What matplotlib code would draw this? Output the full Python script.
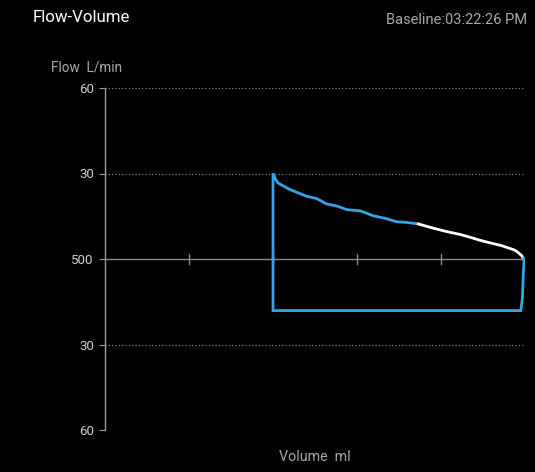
import matplotlib.pyplot as plt
import numpy as np

# loop trace (volume ml, flow L/min)
vol_blue = [200, 200, 203, 206, 213, 220, 230, 240, 252, 264, 276, 288, 304, 319, 333, 347, 360, 373]
flow_blue = [0, 30, 28.0, 26.7, 25.5, 24.4, 23.2, 22.0, 21.2, 19.3, 18.6, 17.3, 16.9, 15.2, 14.3, 13.1, 12.8, 12.3]
vol_white = [373, 391, 407, 423, 435, 446, 462, 472, 482, 488, 492, 496, 498]
flow_white = [12.3, 10.8, 9.6, 8.6, 7.6, 6.6, 5.4, 4.7, 3.7, 3.1, 2.2, 1.2, 0.1]
vol_back = [498, 499, 498, 497, 495, 200, 200]
flow_back = [0.1, -0.4, -4.6, -13.5, -18.1, -18.1, 0]

y_ticks = [60, 30, 0, -30, -60]
y_labels = ["60", "30", "500", "30", "60"]
x_ticks = [100, 200, 300, 400]

BLUE = "#35a3e6"

fig = plt.figure(figsize=(5.35, 4.72), dpi=100, facecolor="black")
ax = fig.add_axes([105 / 535, 1 - 430 / 472, 420 / 535, 342 / 472])
ax.set_facecolor("black")
ax.set_xlim(0, 500)
ax.set_ylim(-60, 60)

for s in ["top", "right", "bottom"]:
    ax.spines[s].set_visible(False)
ax.spines["left"].set_color("#9a9a9a")
ax.spines["left"].set_linewidth(1)

for yv in [60, 30, -30, -60]:
    ax.axhline(yv, color="#9a9a9a", linestyle=(0, (1, 2)), linewidth=0.8, xmax=0.995)
ax.axhline(0, color="#8a8a8a", linewidth=1)
for xv in x_ticks:
    ax.plot([xv, xv], [-1.6, 1.6], color="#8a8a8a", linewidth=1)

ax.set_yticks(y_ticks)
ax.set_yticklabels(y_labels)
ax.set_xticks([])
ax.tick_params(axis="y", colors="#9a9a9a", labelcolor="#d0d0d0", labelsize=9.5,
               length=4, pad=4)
for lab in ax.get_yticklabels():
    lab.set_family("Roboto")

ax.plot(vol_blue, flow_blue, color=BLUE, linewidth=2, solid_joinstyle="miter")
ax.plot(vol_white, flow_white, color="white", linewidth=2)
ax.plot(vol_back, flow_back, color=BLUE, linewidth=2, solid_joinstyle="miter")

fig.text(33 / 535, 1 - 18 / 472, "Flow-Volume", color="white", fontsize=12.2,
         family="Roboto", va="center", ha="left")
fig.text(527 / 535, 1 - 20 / 472, "Baseline:03:22:26 PM", color="#a8a8a8",
         fontsize=10.5, family="Roboto", va="center", ha="right")
fig.text(51 / 535, 1 - 68 / 472, "Flow  L/min", color="#a8a8a8", fontsize=9.8,
         family="Roboto", va="center", ha="left")
fig.text(315 / 535, 1 - 457 / 472, "Volume  ml", color="#a8a8a8", fontsize=10.3,
         family="Roboto", va="center", ha="center")

fig.savefig("out.png", dpi=100, facecolor="black")
